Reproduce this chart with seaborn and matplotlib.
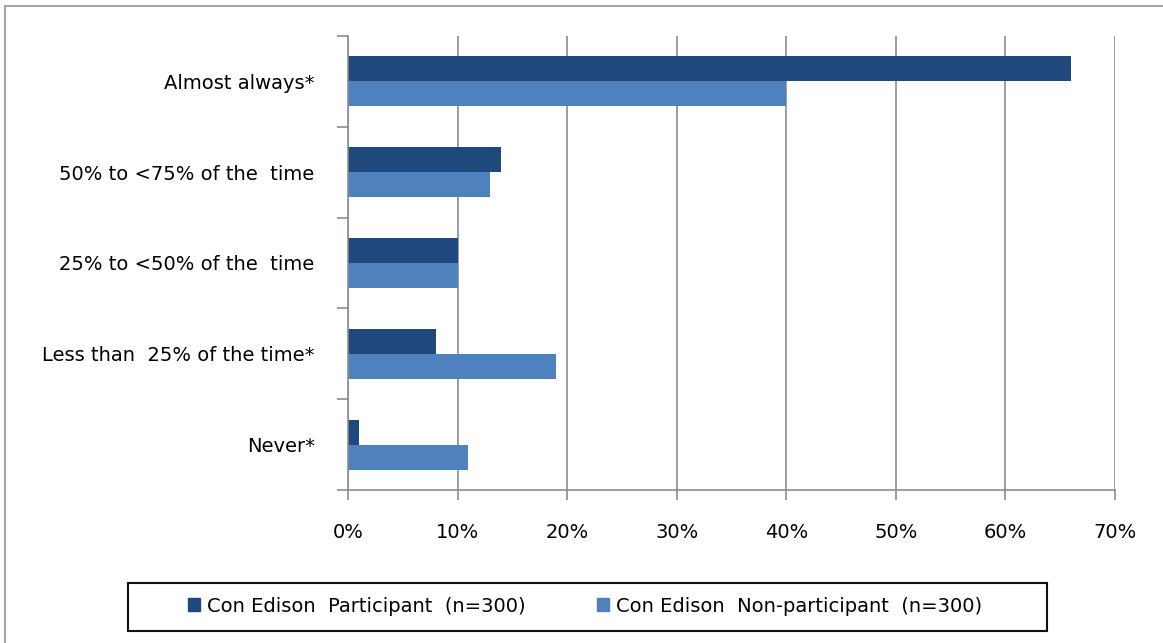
import matplotlib
matplotlib.use("Agg")
import matplotlib.pyplot as plt
import matplotlib.patches as mpatches
from matplotlib.ticker import FixedLocator, PercentFormatter
import seaborn as sns
import pandas as pd

categories = ["Almost always*", "50% to <75% of the  time", "25% to <50% of the  time",
              "Less than  25% of the time*", "Never*"]
participant = [66, 14, 10, 8, 1]
non_participant = [40, 13, 10, 19, 11]
series_names = ["Con Edison  Participant  (n=300)", "Con Edison  Non-participant  (n=300)"]
x_ticks = [0, 10, 20, 30, 40, 50, 60, 70]

df = pd.DataFrame({
    "category": categories * 2,
    "value": participant + non_participant,
    "series": [series_names[0]] * len(categories) + [series_names[1]] * len(categories),
})

sns.set_theme(style="white")
plt.rcParams["font.family"] = ["DejaVu Sans"]
FS = 14
GRID = "#8c8c8c"

fig = plt.figure(figsize=(11.63, 6.43), dpi=100)
ax = fig.add_axes([0.2992, 0.238, 0.6595, 0.706])

palette = {series_names[0]: "#1F497D", series_names[1]: "#4F81BD"}
sns.barplot(data=df, x="value", y="category", hue="series", order=categories,
            hue_order=series_names, palette=palette, width=0.55, orient="h",
            saturation=1, legend=False, ax=ax, edgecolor="none")

ax.set_xlim(0, 70)
ax.set_ylim(len(categories) - 0.5, -0.5)
ax.xaxis.set_major_locator(FixedLocator(x_ticks))
ax.xaxis.set_major_formatter(PercentFormatter(decimals=0))
ax.grid(axis="x", color=GRID, linewidth=1.2)
ax.set_axisbelow(True)
ax.set_xlabel("")
ax.set_ylabel("")

for s in ["top", "right"]:
    ax.spines[s].set_visible(False)
for s in ["left", "bottom"]:
    ax.spines[s].set_color(GRID)
    ax.spines[s].set_linewidth(1.2)

# category labels without marks; short outward marks between categories
ax.tick_params(axis="y", which="major", left=True, length=0, pad=24, labelsize=FS,
               labelcolor="black")
ax.yaxis.set_minor_locator(FixedLocator([i - 0.5 for i in range(len(categories) + 1)]))
ax.tick_params(axis="y", which="minor", left=True, length=8, width=1.2, color=GRID,
               direction="out")
ax.tick_params(axis="x", which="major", bottom=True, length=7, width=1.2, color=GRID,
               direction="out", labelsize=FS, pad=17, labelcolor="black")

handles = [mpatches.Patch(color=palette[n], label=n) for n in series_names]
leg = fig.legend(handles=handles, loc="center", bbox_to_anchor=(0.503, 0.0575), ncol=2,
                 frameon=False, fontsize=FS, handlelength=0.6, labelcolor="black",
                 handleheight=0.6, handletextpad=0.35, columnspacing=3.7)

# legend box
fig.patches.append(mpatches.Rectangle((128 / 1163, 1 - 631 / 643), 919 / 1163, 48 / 643,
                                      transform=fig.transFigure, fill=False,
                                      edgecolor="#111111", linewidth=1.5))

# outer chart border: only the top and left edges fall inside the canvas
fig.patches.append(mpatches.Rectangle((0.0043, -0.05), 1.2, 0.9985 + 0.05 - 0.0075,
                                      transform=fig.transFigure, fill=False,
                                      edgecolor="#a6a6a6", linewidth=1.5))

fig.savefig("out.png", dpi=100)
